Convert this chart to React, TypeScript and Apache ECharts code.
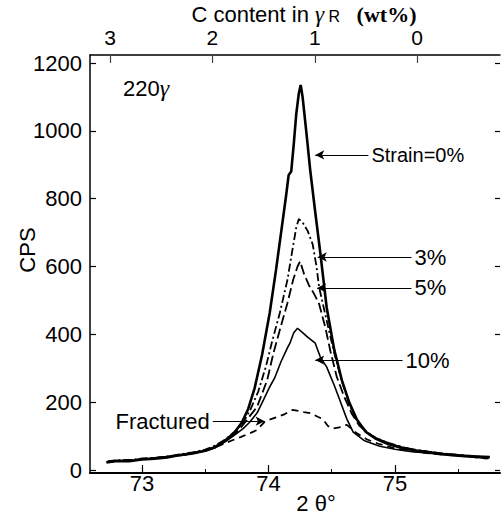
import React, { useEffect, useRef } from "react";
import * as echarts from "echarts";

// ---- Data (2θ in degrees, intensity in CPS) ----
const strain0: [number, number][] = [
  [72.72, 22], [72.8, 27], [72.9, 26], [73.0, 31], [73.1, 33], [73.2, 37], [73.3, 44],
  [73.4, 49], [73.5, 57], [73.58, 68], [73.66, 88], [73.73, 110], [73.79, 140], [73.84, 180],
  [73.89, 240], [73.95, 340], [74.01, 463], [74.06, 590], [74.1, 700], [74.14, 810],
  [74.16, 870], [74.18, 880], [74.2, 960], [74.22, 1050], [74.24, 1110], [74.255, 1135],
  [74.27, 1100], [74.3, 995], [74.33, 885], [74.37, 760], [74.41, 640], [74.46, 480],
  [74.52, 355], [74.58, 265], [74.64, 198], [74.7, 148], [74.77, 112], [74.85, 92],
  [74.95, 76], [75.05, 66], [75.15, 58], [75.25, 54], [75.35, 48], [75.45, 45],
  [75.55, 42], [75.65, 40], [75.75, 38],
];
const strain3: [number, number][] = [
  [72.73, 26], [72.82, 29], [72.92, 30], [73.0, 34], [73.1, 36], [73.2, 40], [73.3, 46],
  [73.4, 52], [73.5, 60], [73.58, 72], [73.66, 90], [73.74, 115], [73.8, 140], [73.86, 180],
  [73.92, 232], [73.98, 305], [74.03, 380], [74.09, 463], [74.15, 560], [74.19, 650],
  [74.22, 715], [74.24, 740], [74.27, 730], [74.31, 705], [74.35, 665], [74.38, 600],
  [74.4, 540], [74.43, 490], [74.47, 425], [74.52, 345], [74.58, 262], [74.64, 192],
  [74.7, 145], [74.77, 115], [74.85, 94], [74.95, 80], [75.05, 68], [75.15, 60],
  [75.25, 55], [75.35, 50], [75.45, 46], [75.55, 43], [75.65, 40], [75.74, 37],
];
const strain5: [number, number][] = [
  [72.74, 24], [72.83, 28], [72.93, 29], [73.02, 33], [73.12, 36], [73.22, 41], [73.32, 45],
  [73.42, 51], [73.52, 59], [73.6, 70], [73.68, 90], [73.76, 115], [73.83, 148],
  [73.91, 186], [73.99, 265], [74.04, 345], [74.09, 413], [74.15, 492], [74.195, 560],
  [74.23, 600], [74.25, 615], [74.28, 580], [74.32, 545], [74.36, 520], [74.4, 490],
  [74.45, 420], [74.49, 350], [74.54, 275], [74.6, 215], [74.66, 165], [74.72, 130],
  [74.8, 105], [74.9, 86], [75.0, 73], [75.1, 64], [75.2, 57], [75.3, 52], [75.4, 47],
  [75.5, 44], [75.6, 41], [75.72, 36],
];
const strain10: [number, number][] = [
  [72.72, 24], [72.82, 27], [72.92, 28], [73.0, 32], [73.1, 35], [73.2, 38], [73.3, 43],
  [73.4, 49], [73.5, 56], [73.58, 66], [73.66, 84], [73.74, 105], [73.8, 122], [73.85, 140],
  [73.91, 168], [73.96, 206], [74.01, 245], [74.05, 272], [74.1, 320], [74.15, 360],
  [74.17, 374], [74.2, 405], [74.23, 418], [74.27, 405], [74.31, 392], [74.37, 374],
  [74.41, 333], [74.46, 304], [74.52, 250], [74.56, 210], [74.62, 150], [74.67, 112],
  [74.76, 86], [74.88, 70], [75.0, 61], [75.12, 55], [75.25, 50], [75.38, 45],
  [75.5, 41], [75.62, 38], [75.74, 34],
];
const fractured: [number, number][] = [
  [72.75, 25], [72.85, 28], [72.95, 30], [73.05, 33], [73.15, 37], [73.25, 41], [73.35, 46],
  [73.45, 53], [73.55, 62], [73.64, 76], [73.71, 87], [73.78, 97], [73.85, 108],
  [73.91, 118], [73.97, 142], [74.02, 150], [74.07, 156], [74.13, 165], [74.19, 177],
  [74.24, 174], [74.28, 171], [74.33, 168], [74.39, 157], [74.43, 150], [74.47, 130],
  [74.51, 122], [74.56, 126], [74.62, 133], [74.66, 120], [74.7, 108], [74.78, 90],
  [74.88, 76], [75.0, 64], [75.12, 56], [75.25, 50], [75.38, 45], [75.5, 42],
  [75.62, 38], [75.73, 34],
];

const bottomTicks = [73, 74, 75];
const bottomMinorTicks = [73.5, 74.5, 75.5];
const topTicks = [0, 1, 2, 3];
const yTicks = [0, 200, 400, 600, 800, 1000, 1200];

// Annotation arrows: label, arrow-head x, line tail x, y (data units)
const annotations = [
  { label: "Strain=0%", headX: 74.37, tailX: 74.79, y: 929, size: 20 },
  { label: "3%", headX: 74.39, tailX: 75.13, y: 628, size: 22 },
  { label: "5%", headX: 74.385, tailX: 75.13, y: 537, size: 22 },
  { label: "10%", headX: 74.37, tailX: 75.06, y: 324, size: 22 },
  { label: "Fractured", headX: 73.97, tailX: 73.56, y: 144, size: 22 },
];

const SANS = "'Liberation Sans', Arial, Helvetica, sans-serif";
const SERIF = "'Liberation Serif', 'Times New Roman', serif";

export default function App() {
  const ref = useRef<HTMLDivElement>(null);

  useEffect(() => {
    if (!ref.current) return;
    const chart = echarts.init(ref.current, undefined, { renderer: "svg" });

    const lineSeries = (
      name: string,
      data: [number, number][],
      width: number,
      type: any,
      extra: any = {}
    ) => ({
      name,
      type: "line",
      data,
      xAxisIndex: 0,
      yAxisIndex: 0,
      showSymbol: false,
      symbol: "none",
      silent: true,
      lineStyle: { color: "#000", width, type },
      emphasis: { disabled: true },
      ...extra,
    });

    const plain = (v: number) => String(v);

    const option: any = {
      animation: false,
      backgroundColor: "#fff",
      textStyle: { fontFamily: SANS },
      grid: {
        left: 90,
        right: 2,
        top: 55,
        bottom: 51,
        containLabel: false,
        outerBoundsMode: "none",
      },
      xAxis: [
        {
          type: "value",
          position: "bottom",
          min: 72.59,
          max: 75.83,
          name: "2 θ°",
          nameLocation: "middle",
          nameGap: 30,
          nameMoveOverlap: false,
          nameTextStyle: {
            fontSize: 22,
            color: "#000",
            fontFamily: SANS,
            verticalAlign: "middle",
            padding: [0, 0, 0, 42],
          },
          axisLine: { show: true, onZero: false, lineStyle: { color: "#000", width: 2 } },
          axisTick: {
            show: true,
            inside: true,
            length: 8,
            customValues: bottomTicks,
            lineStyle: { color: "#000", width: 1.2 },
          },
          axisLabel: {
            customValues: bottomTicks,
            formatter: plain,
            fontSize: 22,
            color: "#000",
            fontFamily: SANS,
            margin: -1,
          },
          splitLine: { show: false },
        },
        {
          type: "value",
          position: "top",
          min: -0.81,
          max: 3.196,
          inverse: true,
          name: "{a|C content in }{g|γ}{r| R}{w|   (wt%)}",
          nameLocation: "middle",
          nameGap: 41,
          nameMoveOverlap: false,
          nameTextStyle: {
            fontSize: 22,
            lineHeight: 20,
            color: "#000",
            fontFamily: SANS,
            verticalAlign: "middle",
            padding: [0, 0, 0, 18],
            rich: {
              a: { fontSize: 22, lineHeight: 20, fontFamily: SANS, color: "#000" },
              g: { fontSize: 23, lineHeight: 20, fontFamily: SERIF, fontStyle: "italic", color: "#000" },
              r: { fontSize: 16, lineHeight: 20, fontFamily: SANS, color: "#000", verticalAlign: "bottom" },
              w: { fontSize: 22, lineHeight: 20, fontFamily: SERIF, fontWeight: "bold", color: "#000" },
            },
          },
          axisLine: { show: true, onZero: false, lineStyle: { color: "#000", width: 1.5 } },
          axisTick: {
            show: true,
            inside: true,
            length: 8,
            customValues: topTicks,
            lineStyle: { color: "#444", width: 1.2 },
          },
          axisLabel: {
            customValues: topTicks,
            formatter: plain,
            fontSize: 21,
            lineHeight: 18,
            color: "#000",
            fontFamily: SANS,
            margin: 9,
          },
          splitLine: { show: false },
        },
        {
          type: "value",
          position: "bottom",
          min: 72.59,
          max: 75.83,
          axisLine: { show: false, onZero: false },
          axisTick: {
            show: true,
            inside: true,
            length: 4,
            customValues: bottomMinorTicks,
            lineStyle: { color: "#000", width: 1 },
          },
          axisLabel: { show: false },
          splitLine: { show: false },
        },
      ],
      yAxis: [
        {
          type: "value",
          position: "left",
          min: -8.8,
          max: 1223.6,
          name: "CPS",
          nameLocation: "middle",
          nameRotate: 90,
          nameGap: 63,
          nameMoveOverlap: false,
          nameTextStyle: {
            fontSize: 22,
            color: "#000",
            fontFamily: SANS,
            verticalAlign: "middle",
            padding: [0, 0, 0, 28],
          },
          axisLine: { show: true, onZero: false, lineStyle: { color: "#000", width: 1.5 } },
          axisTick: {
            show: true,
            inside: true,
            length: 6,
            customValues: yTicks,
            lineStyle: { color: "#000", width: 1.2 },
          },
          axisLabel: {
            customValues: yTicks,
            formatter: plain,
            fontSize: 22,
            color: "#000",
            fontFamily: SANS,
            margin: 8,
          },
          splitLine: { show: false },
        },
        {
          type: "value",
          position: "right",
          min: -8.8,
          max: 1223.6,
          axisLine: { show: false, onZero: false },
          axisTick: {
            show: true,
            inside: true,
            length: 5,
            customValues: yTicks,
            lineStyle: { color: "#000", width: 1.2 },
          },
          axisLabel: { show: false },
          splitLine: { show: false },
        },
      ],
      graphic: [
        {
          type: "text",
          left: 123,
          top: 76,
          silent: true,
          style: {
            text: "{n|220}{g|γ}",
            rich: {
              n: { fontSize: 22, fontFamily: SANS, fill: "#000" },
              g: { fontSize: 24, fontFamily: SERIF, fontStyle: "italic", fill: "#000" },
            },
          },
        },
      ],
      series: [
        lineSeries("Fractured", fractured, 1.8, [7, 5]),
        lineSeries("10%", strain10, 1.6, "solid"),
        lineSeries("5%", strain5, 1.8, [10, 4]),
        lineSeries("3%", strain3, 1.8, [8, 3, 2, 3]),
        lineSeries("Strain=0%", strain0, 2.6, "solid", {
          markLine: {
            silent: true,
            symbol: ["arrow", "none"],
            symbolSize: [7, 9],
            precision: 4,
            lineStyle: { color: "#000", width: 1.2, type: "solid" },
            label: {
              show: true,
              position: "end",
              formatter: "{b}",
              color: "#000",
              fontFamily: SANS,
              fontSize: 22,
              distance: 3,
            },
            emphasis: { disabled: true },
            data: annotations.map((a) => [
              {
                name: a.label,
                coord: [a.headX, a.y],
                label: { fontSize: a.size },
              },
              { coord: [a.tailX, a.y] },
            ]),
          },
        }),
      ],
    };

    chart.setOption(option);
    return () => {
      chart.dispose();
    };
  }, []);

  return (
    <div
      ref={ref}
      style={{ position: "absolute", left: 0, top: 0, width: 502, height: 524 }}
    />
  );
}
